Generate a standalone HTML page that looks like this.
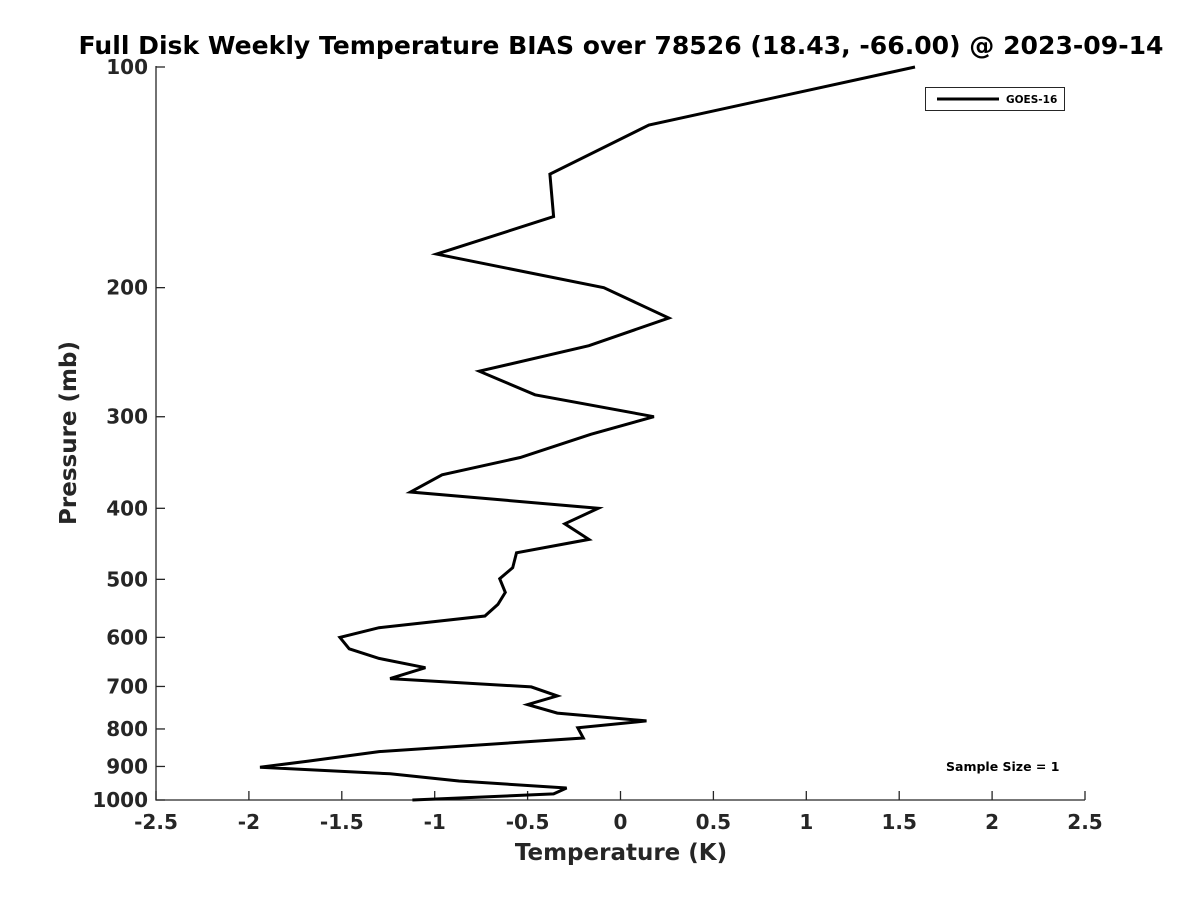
<!DOCTYPE html>
<html><head><meta charset="utf-8"><style>
body{margin:0;background:#fff}
svg{display:block;font-family:"DejaVu Sans","Liberation Sans",sans-serif;font-weight:bold}
</style></head><body>
<svg id="chart" width="1200" height="900" viewBox="0 0 1200 900">
<rect width="1200" height="900" fill="#fff"/>
<text x="621" y="54" font-size="25" text-anchor="middle" textLength="1085" lengthAdjust="spacingAndGlyphs" fill="#000">Full Disk Weekly Temperature BIAS over 78526 (18.43, -66.00) @ 2023-09-14</text>
<g id="axes"></g>
<polyline id="series" fill="none" stroke="#000" stroke-width="3" stroke-linejoin="miter"/>
<g>
<rect x="925.5" y="87.5" width="139" height="23" fill="#fff" stroke="#262626" stroke-width="1"/>
<line x1="937" y1="99" x2="999" y2="99" stroke="#000" stroke-width="3"/>
<text x="1006" y="103" font-size="10.5" fill="#000">GOES-16</text>
</g>
<text x="946" y="771" font-size="12.5" fill="#000">Sample Size = 1</text>
<text x="621" y="860" font-size="23" text-anchor="middle" fill="#262626">Temperature (K)</text>
<text transform="translate(76,433) rotate(-90)" font-size="23" text-anchor="middle" fill="#262626">Pressure (mb)</text>
</svg>
<script>
const temps=[1.585,0.153,-0.38,-0.36,-0.99,-0.09,0.26,-0.17,-0.76,-0.46,0.18,-0.16,-0.54,-0.96,-1.13,-0.12,-0.30,-0.17,-0.56,-0.58,-0.65,-0.62,-0.66,-0.73,-1.30,-1.51,-1.46,-1.30,-1.05,-1.24,-0.48,-0.34,-0.50,-0.34,0.14,-0.23,-0.20,-1.30,-1.68,-1.94,-1.24,-0.87,-0.29,-0.36,-1.12];
const pressures=[100,120,140,160,180,200,220,240,260,280,300,317,341,360,380,400,420,441,460,482,499,521,541,561,582,600,622,641,660,683,701,721,741,761,780,797,823,859,885,902,921,942,963,981,1000];
const xTicks=[-2.5,-2,-1.5,-1,-0.5,0,0.5,1,1.5,2,2.5];
const xTickLabels=["-2.5","-2","-1.5","-1","-0.5","0","0.5","1","1.5","2","2.5"];
const yTicks=[100,200,300,400,500,600,700,800,900,1000];
const yTickLabels=["100","200","300","400","500","600","700","800","900","1000"];
const X0=156,X1=1085,Y0=67,Y1=800;
const xs=v=>X0+(v+2.5)/5*(X1-X0);
const ys=p=>Y0+Math.log10(p/100)*(Y1-Y0);
const NS="http://www.w3.org/2000/svg";
const ax=document.getElementById('axes');
function mk(t,a){const e=document.createElementNS(NS,t);for(const k in a)e.setAttribute(k,a[k]);ax.appendChild(e);return e;}
let l=mk('path',{d:`M${X0},${Y0-1}V${Y1}H${X1}`,fill:'none',stroke:'#262626','stroke-width':1.3});


xTicks.forEach((v,i)=>{const x=xs(v);
const t=mk('line',{x1:x,x2:x,y1:Y1,y2:Y1-9,stroke:'#262626','stroke-width':1.3});


const tx=mk('text',{x:x,y:Y1+29,'font-size':20,'text-anchor':'middle',fill:'#262626'});tx.textContent=xTickLabels[i];

});
yTicks.forEach((v,i)=>{const y=ys(v);
const t=mk('line',{x1:X0,x2:X0+9,y1:y,y2:y,stroke:'#262626','stroke-width':1.3});


const tx=mk('text',{x:X0-8,y:y+7,'font-size':20,'text-anchor':'end',fill:'#262626'});tx.textContent=yTickLabels[i];

});
document.getElementById('series').setAttribute('points',temps.map((t,i)=>xs(t).toFixed(1)+','+ys(pressures[i]).toFixed(1)).join(' '));
</script>
</body></html>
